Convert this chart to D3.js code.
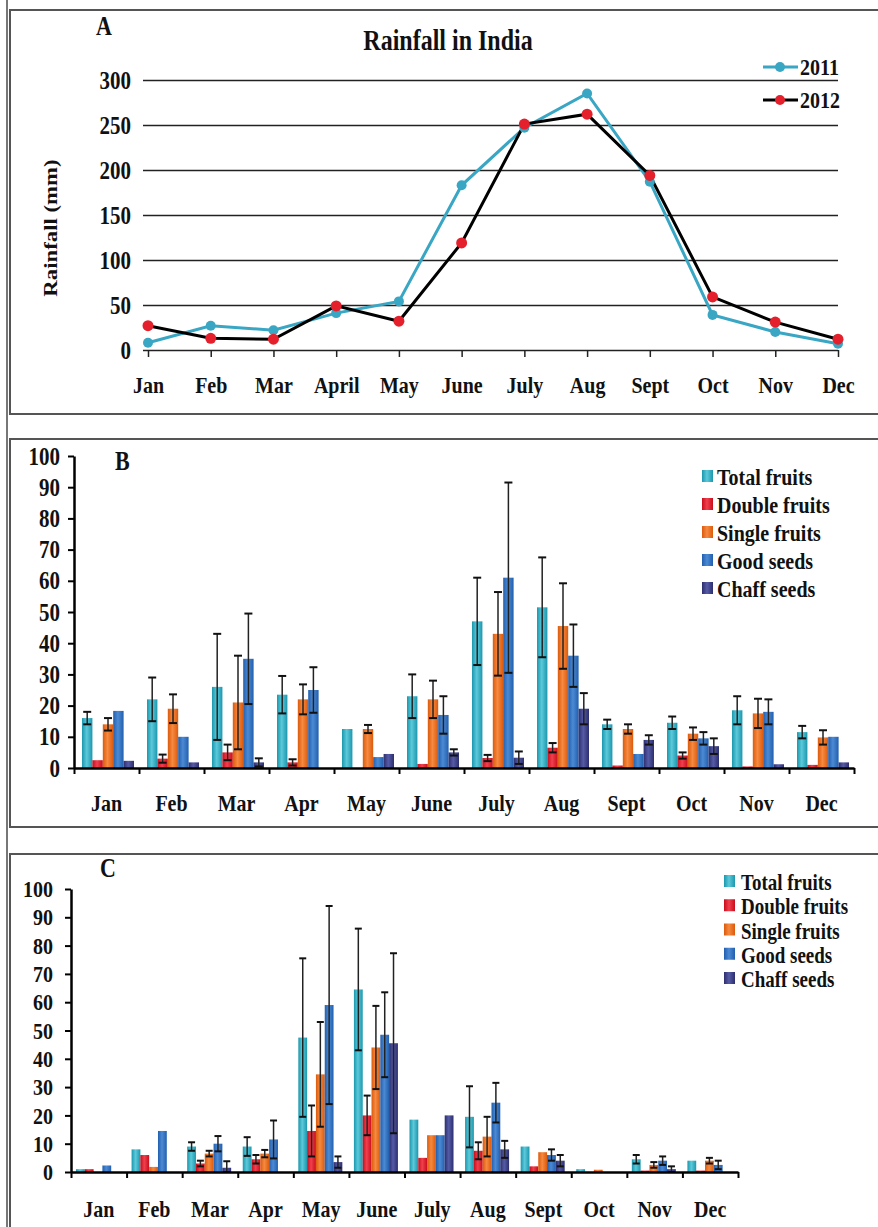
<!DOCTYPE html>
<html><head><meta charset="utf-8">
<script src="https://cdn.jsdelivr.net/npm/d3@7"></script>
<style>body{margin:0;background:#fff}svg{display:block}</style>
</head><body><svg id="c" width="878" height="1227"></svg>
<script>
// ---------- DATA ----------
const monthsA = ["Jan","Feb","Mar","April","May","June","July","Aug","Sept","Oct","Nov","Dec"];
const rain2011 = [8,27,22,41,54,183,247,285,187,39,20,7];
const rain2012 = [27,13,12,49,32,119,251,262,194,59,31,12];
const rainTicks = [0,50,100,150,200,250,300];

const months = ["Jan","Feb","Mar","Apr","May","June","July","Aug","Sept","Oct","Nov","Dec"];
const seriesNames = ["Total fruits","Double fruits","Single fruits","Good seeds","Chaff seeds"];
const pctTicks = [0,10,20,30,40,50,60,70,80,90,100];

// Panel B
const totalB  = [16,22,26,23.5,12.5,23,47,51.5,14,14.5,18.5,11.5];
const totalBErr = [2,7,17,6,0,7,14,16,1.5,2,4.5,2];
const doubleB = [2.5,3,5,1.8,0,1.3,3.2,6.5,0.8,4,0.5,1];
const doubleBErr = [0,1.3,2.5,1,0,0,1,1.5,0,1,0,0];
const singleB = [14,19,21,22,12.5,22,43,45.5,12.5,11,17.5,9.8];
const singleBErr = [2,4.6,15,4.8,1.3,6,13.4,13.7,1.5,2,4.7,2.3];
const goodB = [18.3,10,35,25,3.5,17,61,36,4.5,9.5,18,10];
const goodBErr = [0,0,14.5,7.3,0,6,30.5,10,0,2,4,0];
const chaffB = [2.3,1.8,1.8,0,4.5,5,3.3,19,9,7,1.2,1.8];
const chaffBErr = [0,0,1.3,0,0,1,2,5,1.5,2.5,0,0];

// Panel C
const totalC  = [1,8,9,9,47.5,64.5,18.5,19.5,9,1,4.5,4];
const totalCErr = [0,0,1.5,3.3,28,21.5,0,10.8,0,0,1.5,0];
const doubleC = [1,6,3,4.5,14.5,20,5,7.5,2,0,0.5,0.5];
const doubleCErr = [0,0,1,1.5,9,7,0,3,0,0,0,0];
const singleC = [0,1.8,6.5,6.5,34.5,44,13,12.5,7,0.8,2.5,4];
const singleCErr = [0,0,1,1.3,18.5,14.7,0,7,0,0,1,1];
const goodC = [2.3,14.5,10,11.5,59,48.5,13,24.5,6,0,4,2.5];
const goodCErr = [0,0,2.7,6.7,35,15,0,7,2,0,1.5,1.5];
const chaffC = [0,0,1.5,0,3.5,45.5,20,8,4,0,1,0];
const chaffCErr = [0,0,2.3,0,2,31.8,0,3,2,0,1,0];

// ---------- STYLE ----------
const FONT = "'Liberation Serif','Times New Roman',serif";
const SY = 1.2;
const barColors = [
  ["#1b97ad","#5cc9da"],
  ["#c80d1c","#f0404e"],
  ["#dc5a0c","#f58a40"],
  ["#215fae","#4d8ad4"],
  ["#2c2e6c","#565ba6"]
];

const svg = d3.select("#c");
const defs = svg.append("defs");
barColors.forEach((c,i)=>{
  const g = defs.append("linearGradient").attr("id","g"+i).attr("x1",0).attr("x2",1).attr("y1",0).attr("y2",0);
  g.append("stop").attr("offset","0").attr("stop-color",c[0]);
  g.append("stop").attr("offset","0.45").attr("stop-color",c[1]);
  g.append("stop").attr("offset","1").attr("stop-color",c[0]);
});

function label(g,x,y,t,size,anchor="start"){
  return g.append("text").attr("transform",`translate(${x},${y}) scale(1,${SY})`)
    .attr("font-family",FONT).attr("font-weight","bold").attr("font-size",size)
    .attr("text-anchor",anchor).attr("fill","#111").text(t);
}
function styleText(sel,size){
  sel.attr("font-family",FONT).attr("font-weight","bold").attr("font-size",size).attr("fill","#111");
}

// frames
svg.append("line").attr("x1",7).attr("x2",7).attr("y1",0).attr("y2",1227).attr("stroke","#777").attr("stroke-width",2);
[[10,414],[439,827],[854,1260]].forEach(([t,b])=>
  svg.append("rect").attr("x",10).attr("y",t).attr("width",900).attr("height",b-t)
     .attr("fill","none").attr("stroke","#555").attr("stroke-width",2));

// ---------- PANEL A ----------
const gA = svg.append("g");
const xA = d3.scalePoint().domain(monthsA).range([148,838]);
const yA = d3.scaleLinear().domain([0,300]).range([350,80]);

gA.append("g").attr("transform","translate(143,0)")
  .call(d3.axisLeft(yA).tickValues(rainTicks).tickSize(-(838-143)).tickPadding(12))
  .call(g=>{
    g.select(".domain").remove();
    g.selectAll(".tick line").attr("stroke","#222").attr("stroke-width",1.5);
    styleText(g.selectAll("text"),21);
    g.selectAll("text").attr("transform",`scale(1,${SY})`);
  });
gA.append("g").attr("transform","translate(0,350)")
  .call(d3.axisBottom(xA).tickSize(7))
  .call(g=>{
    g.select(".domain").remove();
    g.selectAll(".tick line").attr("stroke","#222").attr("stroke-width",1.5);
    styleText(g.selectAll("text"),20);
    g.selectAll("text").attr("y",0).attr("dy",null).attr("transform",`translate(0,43) scale(1,${SY})`);
  });

label(gA,96,35,"A",22);
label(gA,448,50,"Rainfall in India",24,"middle");
gA.append("text").attr("transform",`translate(57,228) rotate(-90) scale(${SY},1)`)
  .attr("font-family",FONT).attr("font-weight","bold").attr("font-size",19)
  .attr("text-anchor","middle").attr("fill","#111").text("Rainfall (mm)");

const line = d3.line().x((d,i)=>xA(monthsA[i])).y(d=>yA(d));
const teal = "#39a6c4", red = "#e3202c";
gA.append("path").datum(rain2011).attr("d",line).attr("fill","none").attr("stroke",teal).attr("stroke-width",3);
gA.append("path").datum(rain2012).attr("d",line).attr("fill","none").attr("stroke","#000").attr("stroke-width",3);
gA.selectAll(".m11").data(rain2011).join("circle").attr("cx",(d,i)=>xA(monthsA[i])).attr("cy",d=>yA(d)).attr("r",5).attr("fill",teal);
gA.selectAll(".m12").data(rain2012).join("circle").attr("cx",(d,i)=>xA(monthsA[i])).attr("cy",d=>yA(d)).attr("r",5.5).attr("fill",red);

// legend A
[["2011",teal,teal,67],["2012","#000",red,100]].forEach(([t,lc,mc,y])=>{
  gA.append("line").attr("x1",763).attr("x2",798).attr("y1",y).attr("y2",y).attr("stroke",lc).attr("stroke-width",3);
  gA.append("circle").attr("cx",780).attr("cy",y).attr("r",5).attr("fill",mc);
  label(gA,800,y+8,t,20);
});

// ---------- BAR PANELS ----------
function barPanel(cfg){
  const g = svg.append("g");
  const x = d3.scaleBand().domain(months).range(cfg.xr);
  const s = d3.scaleBand().domain(seriesNames).range(cfg.sr);
  const y = d3.scaleLinear().domain([0,100]).range(cfg.yr);
  const y0 = cfg.yr[0];

  cfg.series.forEach((ser,si)=>{
    g.selectAll(null).data(ser.vals).join("rect")
      .attr("x",(d,i)=>x(months[i])+s(seriesNames[si]))
      .attr("width",s.bandwidth())
      .attr("y",d=>y(d)).attr("height",d=>y0-y(d))
      .attr("fill",`url(#g${si})`);
  });
  cfg.series.forEach((ser,si)=>{
    ser.vals.forEach((v,i)=>{
      const e = ser.errs[i]; if(!e) return;
      const cx = x(months[i])+s(seriesNames[si])+s.bandwidth()/2;
      const top = y(v+e), bot = y(Math.max(0,v-e));
      g.append("line").attr("x1",cx).attr("x2",cx).attr("y1",top).attr("y2",bot).attr("stroke","#222").attr("stroke-width",1.5);
      [top,bot].forEach(yy=>g.append("line").attr("x1",cx-cfg.cap).attr("x2",cx+cfg.cap).attr("y1",yy).attr("y2",yy).attr("stroke","#111").attr("stroke-width",2));
    });
  });

  g.append("g").attr("transform",`translate(${cfg.xr[0]},0)`)
    .call(d3.axisLeft(y).tickValues(pctTicks).tickSize(6).tickSizeOuter(0).tickPadding(cfg.ypad))
    .call(a=>{
      a.select(".domain").attr("stroke","#000").attr("stroke-width",2.5);
      a.selectAll(".tick line").attr("stroke","#000").attr("stroke-width",2);
      styleText(a.selectAll("text"),cfg.yfs);
      a.selectAll("text").attr("transform",`scale(1,${SY})`);
    });
  const xb = d3.scaleLinear().domain([0,12]).range(cfg.xr);
  g.append("g").attr("transform",`translate(0,${y0})`)
    .call(d3.axisBottom(xb).tickValues(d3.range(0,13)).tickSize(6).tickSizeOuter(0).tickFormat(""))
    .call(a=>{
      a.select(".domain").attr("stroke","#000").attr("stroke-width",2.5);
      a.selectAll(".tick line").attr("stroke","#000").attr("stroke-width",2);
    });
  g.append("g").attr("transform",`translate(0,${y0})`)
    .call(d3.axisBottom(x).tickSize(0))
    .call(a=>{
      a.select(".domain").remove();
      styleText(a.selectAll("text"),20);
      a.selectAll("text").attr("y",0).attr("dy",null).attr("transform",`translate(0,${cfg.mdy}) scale(1,${SY})`);
    });

  label(g,cfg.letter[0],cfg.letter[1],cfg.letter[2],22);
  seriesNames.forEach((n,i)=>{
    const by = cfg.leg.y + i*cfg.leg.dy;
    g.append("rect").attr("x",cfg.leg.x).attr("y",by-15).attr("width",11).attr("height",12).attr("fill",`url(#g${i})`);
    label(g,cfg.leg.x+cfg.leg.tx,by,n,cfg.leg.fs);
  });
}

barPanel({
  xr:[74,854], sr:[8,60], yr:[768,456], cap:4, ypad:8, yfs:21, mdy:43,
  letter:[115,470,"B"],
  leg:{x:702,y:485,dy:28,tx:15,fs:20},
  series:[
    {vals:totalB,errs:totalBErr},{vals:doubleB,errs:doubleBErr},{vals:singleB,errs:singleBErr},
    {vals:goodB,errs:goodBErr},{vals:chaffB,errs:chaffBErr}
  ]
});
barPanel({
  xr:[71,738], sr:[5,49], yr:[1172,889], cap:3.5, ypad:12, yfs:20, mdy:45,
  letter:[100,877,"C"],
  leg:{x:724,y:890,dy:24.25,tx:17,fs:19},
  series:[
    {vals:totalC,errs:totalCErr},{vals:doubleC,errs:doubleCErr},{vals:singleC,errs:singleCErr},
    {vals:goodC,errs:goodCErr},{vals:chaffC,errs:chaffCErr}
  ]
});
</script></body></html>
